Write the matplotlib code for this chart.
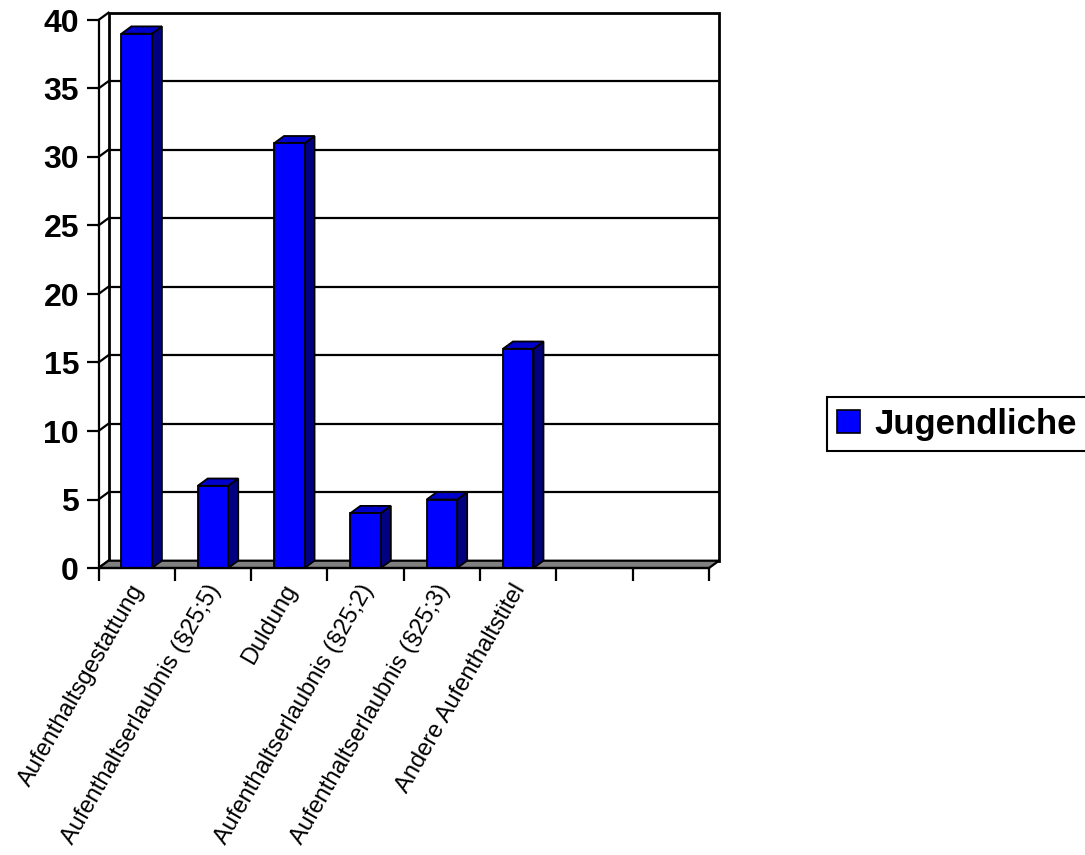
"""Bar chart (Excel-style 3D look): residence status of young people."""

import numpy as np
import matplotlib
matplotlib.use('Agg')
import matplotlib.pyplot as plt
from matplotlib.patches import Polygon, Rectangle, Patch
from matplotlib.transforms import ScaledTranslation


CATEGORIES = [
    'Aufenthaltsgestattung',
    'Aufenthaltserlaubnis (§25;5)',
    'Duldung',
    'Aufenthaltserlaubnis (§25;2)',
    'Aufenthaltserlaubnis (§25;3)',
    'Andere Aufenthaltstitel',
    '',
    '',
]
VALUES = [39, 6, 31, 4, 5, 16, np.nan, np.nan]
SERIES_LABEL = 'Jugendliche'
Y_TICKS = [0, 5, 10, 15, 20, 25, 30, 35, 40]

FRONT = '#0000FF'
SIDE = '#000080'
TOP = '#0000CC'
FLOOR = '#808080'


def main():
    plt.rcParams['font.family'] = ['Liberation Sans', 'DejaVu Sans']

    fig = plt.figure(figsize=(10.85, 8.55), dpi=100)
    W, H = 1085, 855
    left, right, top, bottom = 98.5, 709, 20, 568
    ax = fig.add_axes([left / W, 1 - bottom / H, (right - left) / W, (bottom - top) / H])

    n = len(CATEGORIES)
    ymax = Y_TICKS[-1]
    ax.set_xlim(0, n)
    ax.set_ylim(0, ymax)

    # depth offset of the back wall, in data units
    px_x = (right - left) / n
    px_y = (bottom - top) / ymax
    dx = 10 / px_x
    dy = 7.3 / px_y

    lw = 1.6
    # back wall
    ax.add_patch(Rectangle((dx, dy), n, ymax, facecolor='white', edgecolor='black',
                           linewidth=lw + 0.4, zorder=0.5, clip_on=False))
    for v in Y_TICKS[1:-1]:
        ax.plot([dx, n + dx], [v + dy, v + dy], color='black', lw=lw, zorder=0.6,
                clip_on=False, solid_capstyle='butt')
    # left wall
    for v in Y_TICKS:
        ax.plot([0, dx], [v, v + dy], color='black', lw=lw, zorder=0.6, clip_on=False)
    # floor
    ax.add_patch(Polygon([(0, 0), (n, 0), (n + dx, dy), (dx, dy)], closed=True,
                         facecolor=FLOOR, edgecolor='black', linewidth=lw,
                         zorder=1, clip_on=False))

    # bars
    w = 0.4
    for i, v in enumerate(VALUES):
        if np.isnan(v):
            continue
        x0 = i + 0.5 - w / 2
        x1 = x0 + w
        ax.add_patch(Polygon([(x1, 0), (x1 + dx, dy), (x1 + dx, v + dy), (x1, v)],
                             closed=True, facecolor=SIDE, edgecolor='black',
                             linewidth=1.3, zorder=2, clip_on=False))
        ax.add_patch(Polygon([(x0, v), (x1, v), (x1 + dx, v + dy), (x0 + dx, v + dy)],
                             closed=True, facecolor=TOP, edgecolor='black',
                             linewidth=1.3, zorder=2, clip_on=False))
        ax.add_patch(Rectangle((x0, 0), w, v, facecolor=FRONT, edgecolor='black',
                               linewidth=1.3, zorder=2.1, clip_on=False))

    # axes styling
    for side in ['top', 'right']:
        ax.spines[side].set_visible(False)
    ax.spines['left'].set_linewidth(lw)
    ax.spines['bottom'].set_linewidth(lw)
    ax.patch.set_visible(False)

    ax.set_yticks(Y_TICKS)
    ax.set_yticklabels([str(t) for t in Y_TICKS], fontsize=23, fontweight='bold')
    ax.tick_params(axis='y', direction='out', length=9, width=lw, pad=5)

    ax.set_xticks(np.arange(n + 1))
    ax.set_xticklabels([])
    ax.tick_params(axis='x', which='major', direction='out', length=9, width=lw)
    ax.set_xticks(np.arange(n) + 0.5, minor=True)
    ax.set_xticklabels(CATEGORIES, minor=True, rotation=60, ha='right',
                       rotation_mode='anchor', fontsize=17)
    ax.tick_params(axis='x', which='minor', length=0, pad=9)
    shift = ScaledTranslation(-7 / 100, 0, fig.dpi_scale_trans)
    for lab in ax.get_xticklabels(minor=True):
        lab.set_transform(lab.get_transform() + shift)

    leg = fig.legend(handles=[Patch(facecolor=FRONT, edgecolor='black', linewidth=1.2)],
                     labels=[SERIES_LABEL], loc='center left',
                     bbox_to_anchor=(827 / W, 1 - 424 / H),
                     prop={'size': 25, 'weight': 'bold'},
                     frameon=True, fancybox=False, edgecolor='black', framealpha=1,
                     handlelength=0.65, handleheight=0.65, handletextpad=0.43,
                     borderpad=0.3, borderaxespad=0)
    leg.get_frame().set_linewidth(1.5)

    fig.savefig('out.png', dpi=100)
    plt.close(fig)


if __name__ == '__main__':
    main()
